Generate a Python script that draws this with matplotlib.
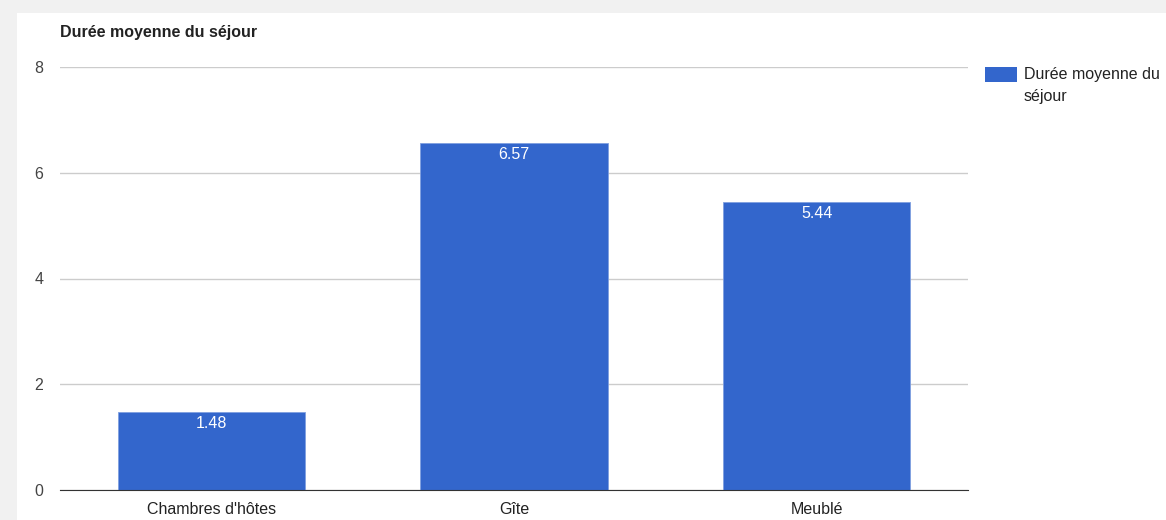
import matplotlib.pyplot as plt
from matplotlib.patches import Rectangle

categories = ["Chambres d'hôtes", "Gîte", "Meublé"]
values = [1.48, 6.57, 5.44]
series_name = "Durée moyenne du séjour"
yticks = [0, 2, 4, 6, 8]

plt.rcParams['font.family'] = ['Liberation Sans', 'DejaVu Sans']

W, H = 1166, 520
fig = plt.figure(figsize=(W / 100, H / 100), dpi=100, facecolor='#f1f1f1')
fig.patches.append(Rectangle((17 / W, 0), 1 - 17 / W, 1 - 13 / H, transform=fig.transFigure,
                             facecolor='white', edgecolor='none', zorder=-10))

ax = fig.add_axes([60 / W, 1 - 490 / H, 908 / W, 423 / H])
ax.set_facecolor('none')
x = range(len(categories))
bars = ax.bar(x, values, width=0.62, color='#3366cc', edgecolor='#7f9fe0', linewidth=0.6, zorder=3)
for b, v in zip(bars, values):
    ax.text(b.get_x() + b.get_width() / 2, v - 0.22, f"{v:.2f}", ha='center', va='center',
            color='white', fontsize=11.5, zorder=4)

ax.set_xlim(-0.5, 2.5)
ax.set_ylim(0, 8)
ax.set_yticks(yticks)
ax.set_xticks(list(x))
ax.set_xticklabels(categories)
ax.grid(axis='y', color='#cccccc', linewidth=1, zorder=0)
for s in ['top', 'right', 'left']:
    ax.spines[s].set_visible(False)
ax.spines['bottom'].set_color('#333333')
ax.spines['bottom'].set_zorder(5)
ax.tick_params(length=0, labelsize=11.5, colors='#222222')
ax.tick_params(axis='y', pad=12, colors='#444444')
ax.tick_params(axis='x', pad=9)

fig.text(60 / W, 1 - 32 / H, series_name, fontsize=11.5, fontweight='bold', color='#222222',
         va='center', ha='left')

# legend
fig.patches.append(Rectangle((985 / W, 1 - 82 / H), 32 / W, 15 / H, transform=fig.transFigure,
                             facecolor='#3366cc', edgecolor='none'))
fig.text(1024 / W, 1 - 75 / H, "Durée moyenne du", fontsize=11.5, color='#222222', va='center', ha='left')
fig.text(1024 / W, 1 - 97 / H, "séjour", fontsize=11.5, color='#222222', va='center', ha='left')

fig.savefig('out.png', dpi=100, facecolor=fig.get_facecolor())
